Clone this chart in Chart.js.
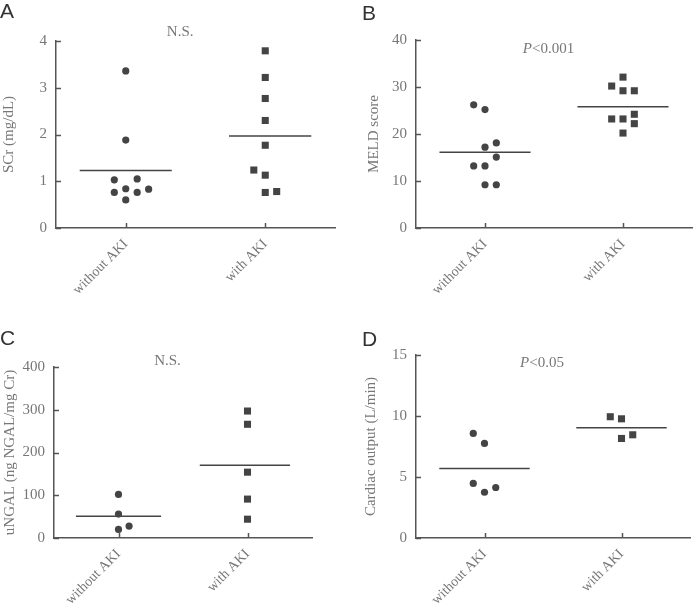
<!doctype html>
<html>
	<head>
		<meta charset="utf-8" />
		<title>AKI comparison panels</title>
		<script src="https://cdn.jsdelivr.net/npm/chart.js@4.4.1/dist/chart.umd.min.js"></script>
		<style>
			html,
			body {
				margin: 0;
				padding: 0;
				background: #fff;
			}

			#wrap {
				position: relative;
				width: 697px;
				height: 612px;
				overflow: hidden;
			}

			canvas {
				position: absolute;
			}

			.letter {
				position: absolute;
				font-family: "Liberation Sans", Arial, sans-serif;
				font-size: 21px;
				color: #333;
				line-height: 1;
			}
		</style>
	</head>

	<body>
		<div id="wrap">
			<canvas id="panelA" width="348" height="300" style="left: 0; top: 0"></canvas>
			<canvas id="panelB" width="349" height="300" style="left: 348px; top: 0"></canvas>
			<canvas id="panelC" width="348" height="312" style="left: 0; top: 300px"></canvas>
			<canvas id="panelD" width="349" height="312" style="left: 348px; top: 300px"></canvas>
			<div class="letter" style="left: 0px; top: 0px">A</div>
			<div class="letter" style="left: 362px; top: 2px">B</div>
			<div class="letter" style="left: 0px; top: 327px">C</div>
			<div class="letter" style="left: 362px; top: 328px">D</div>
		</div>

		<script>
			// values
			const groups = ["without AKI", "with AKI"];

			const scrWithout = [3.36, 1.88, 1.03, 1.05, 0.76, 0.84, 0.76, 0.83, 0.6];
			const scrWithoutSlot = [0, 0, -1, 1, -1, 0, 1, 2, 0];
			const scrWith = [3.79, 3.22, 2.77, 2.3, 1.77, 1.24, 1.13, 0.76, 0.78];
			const scrWithSlot = [0, 0, 0, 0, 0, -1, 0, 0, 1];
			const scrMeans = [1.23, 1.97];
			const scrTicks = [0, 1, 2, 3, 4];

			const meldWithout = [26.2, 25.2, 17.2, 18.1, 15.1, 13.2, 13.2, 9.2, 9.2];
			const meldWithoutSlot = [-1, 0, 0, 1, 1, -1, 0, 0, 1];
			const meldWith = [32.1, 30.2, 29.2, 29.2, 23.2, 23.2, 24.2, 22.2, 20.2];
			const meldWithSlot = [0, -1, 0, 1, -1, 0, 1, 1, 0];
			const meldMeans = [16.1, 25.8];
			const meldTicks = [0, 10, 20, 30, 40];

			const ngalWithout = [102, 56, 20, 28];
			const ngalWithoutSlot = [0, 0, 0, 1];
			const ngalWith = [297, 266, 154, 91, 44];
			const ngalWithSlot = [0, 0, 0, 0, 0];
			const ngalMeans = [51, 170];
			const ngalTicks = [0, 100, 200, 300, 400];

			const coWithout = [8.57, 7.75, 4.47, 3.75, 4.14];
			const coWithoutSlot = [-1, 0, -1, 0, 1];
			const coWith = [9.94, 9.77, 8.16, 8.46];
			const coWithSlot = [-1, 0, 0, 1];
			const coMeans = [5.7, 9.03];
			const coTicks = [0, 5, 10, 15];

			// drawing
			const ink = "#444";
			const axisInk = "#555";
			const textInk = "#777";
			const serif = "'Liberation Serif', 'Times New Roman', serif";
			const slotWidth = 0.082;
			const meanHalf = 0.33;

			function pts(values, slots, cat) {
				return values.map((v, i) => ({ x: cat + slots[i] * slotWidth, y: v }));
			}

			function meanLine(mean, cat, left) {
				return [
					{ x: cat - (left ?? meanHalf), y: mean },
					{ x: cat + meanHalf, y: mean },
				];
			}

			const innerTicks = {
				id: "innerTicks",
				afterDraw(chart) {
					const { ctx, chartArea } = chart;
					const xs = chart.scales.x,
						ys = chart.scales.y;
					ctx.save();
					ctx.strokeStyle = axisInk;
					ctx.lineWidth = 1.5;
					ctx.beginPath();
					ys.ticks.forEach((t) => {
						const py = Math.round(ys.getPixelForValue(t.value)) + 0.5;
						ctx.moveTo(chartArea.left, py);
						ctx.lineTo(chartArea.left + 5, py);
					});
					xs.ticks.forEach((t) => {
						const px = Math.round(xs.getPixelForValue(t.value)) + 0.5;
						ctx.moveTo(px, chartArea.bottom);
						ctx.lineTo(px, chartArea.bottom - 5);
					});
					ctx.stroke();

					// significance note
					const note = chart.options.plugins.note;
					if (note) {
						const nx = xs.getPixelForValue(note.x);
						const ny = ys.getPixelForValue(note.y);
						ctx.fillStyle = textInk;
						ctx.textBaseline = "middle";
						const italicFont = "italic 15px " + serif;
						const plainFont = "15px " + serif;
						ctx.font = italicFont;
						const w1 = note.italic ? ctx.measureText(note.italic).width : 0;
						ctx.font = plainFont;
						const w2 = ctx.measureText(note.text).width;
						let sx = nx - (w1 + w2) / 2;
						if (note.italic) {
							ctx.font = italicFont;
							ctx.textAlign = "left";
							ctx.fillText(note.italic, sx, ny);
							sx += w1;
						}
						ctx.font = plainFont;
						ctx.textAlign = "left";
						ctx.fillText(note.text, sx, ny);
					}
					ctx.restore();
				},
			};

			function makePanel(id, p) {
				const canvas = document.getElementById(id);
				const w = canvas.width,
					h = canvas.height;
				return new Chart(canvas.getContext("2d"), {
					type: "scatter",
					data: {
						datasets: [
							{
								data: pts(p.without, p.withoutSlot, 1),
								pointStyle: "circle",
								pointRadius: 3.6,
								backgroundColor: ink,
								borderWidth: 0,
							},
							{
								data: pts(p.with, p.withSlot, 2),
								pointStyle: "rect",
								pointRadius: 5,
								backgroundColor: ink,
								borderWidth: 0,
							},
							{
								type: "line",
								data: meanLine(p.means[0], 1),
								borderColor: ink,
								borderWidth: 1.5,
								pointRadius: 0,
							},
							{
								type: "line",
								data: meanLine(p.means[1], 2, p.withMeanLeft),
								borderColor: ink,
								borderWidth: 1.5,
								pointRadius: 0,
							},
						],
					},
					options: {
						responsive: false,
						animation: false,
						events: [],
						layout: {
							padding: { top: p.area.t, right: w - p.area.r, left: 0, bottom: 0 },
						},
						plugins: {
							legend: { display: false },
							tooltip: { enabled: false },
							note: p.note,
						},
						scales: {
							x: {
								type: "linear",
								min: 0.5,
								max: 2.5,
								afterBuildTicks: (s) => {
									s.ticks = [{ value: 1 }, { value: 2 }];
								},
								afterFit: (s) => {
									s.height = h - p.area.b;
								},
								grid: { display: false, drawTicks: false },
								border: { display: true, color: axisInk, width: 1.5 },
								ticks: {
									minRotation: 45,
									maxRotation: 45,
									padding: 8,
									color: textInk,
									font: { family: serif, size: 14 },
									callback: (v) => groups[v - 1],
								},
							},
							y: {
								min: p.ticks[0],
								max: p.ticks[p.ticks.length - 1],
								afterBuildTicks: (s) => {
									s.ticks = p.ticks.map((v) => ({ value: v }));
								},
								afterFit: (s) => {
									s.width = p.area.l;
								},
								grid: { display: false, drawTicks: false },
								border: { display: true, color: axisInk, width: 1.5 },
								ticks: {
									padding: 9,
									color: textInk,
									font: { family: serif, size: 15 },
								},
								title: {
									display: true,
									text: p.title,
									color: textInk,
									font: { family: serif, size: 15 },
									padding: { top: p.titlePad, bottom: 0 },
								},
							},
						},
					},
					plugins: [innerTicks],
				});
			}

			makePanel("panelA", {
				without: scrWithout,
				withoutSlot: scrWithoutSlot,
				with: scrWith,
				withSlot: scrWithSlot,
				means: scrMeans,
				withMeanLeft: 0.26,
				ticks: scrTicks,
				title: "SCr (mg/dL)",
				titlePad: 0,
				area: { l: 56, t: 41, r: 335, b: 228 },
				note: { x: 1.39, y: 4.19, text: "N.S." },
			});

			makePanel("panelB", {
				without: meldWithout,
				withoutSlot: meldWithoutSlot,
				with: meldWith,
				withSlot: meldWithSlot,
				means: meldMeans,
				ticks: meldTicks,
				title: "MELD score",
				titlePad: 17,
				area: { l: 68, t: 40, r: 348, b: 228 },
				note: { x: 1.46, y: 38.1, italic: "P", text: "<0.001" },
			});

			makePanel("panelC", {
				without: ngalWithout,
				withoutSlot: ngalWithoutSlot,
				with: ngalWith,
				withSlot: ngalWithSlot,
				means: ngalMeans,
				withMeanLeft: 0.37,
				ticks: ngalTicks,
				title: "uNGAL (ng NGAL/mg Cr)",
				titlePad: 1,
				area: { l: 54, t: 67, r: 312, b: 238 },
				note: { x: 1.38, y: 415, text: "N.S." },
			});

			makePanel("panelD", {
				without: coWithout,
				withoutSlot: coWithoutSlot,
				with: coWith,
				withSlot: coWithSlot,
				means: coMeans,
				ticks: coTicks,
				title: "Cardiac output (L/min)",
				titlePad: 14,
				area: { l: 68, t: 55, r: 342, b: 238 },
				note: { x: 1.42, y: 14.3, italic: "P", text: "<0.05" },
			});
		</script>
	</body>
</html>
